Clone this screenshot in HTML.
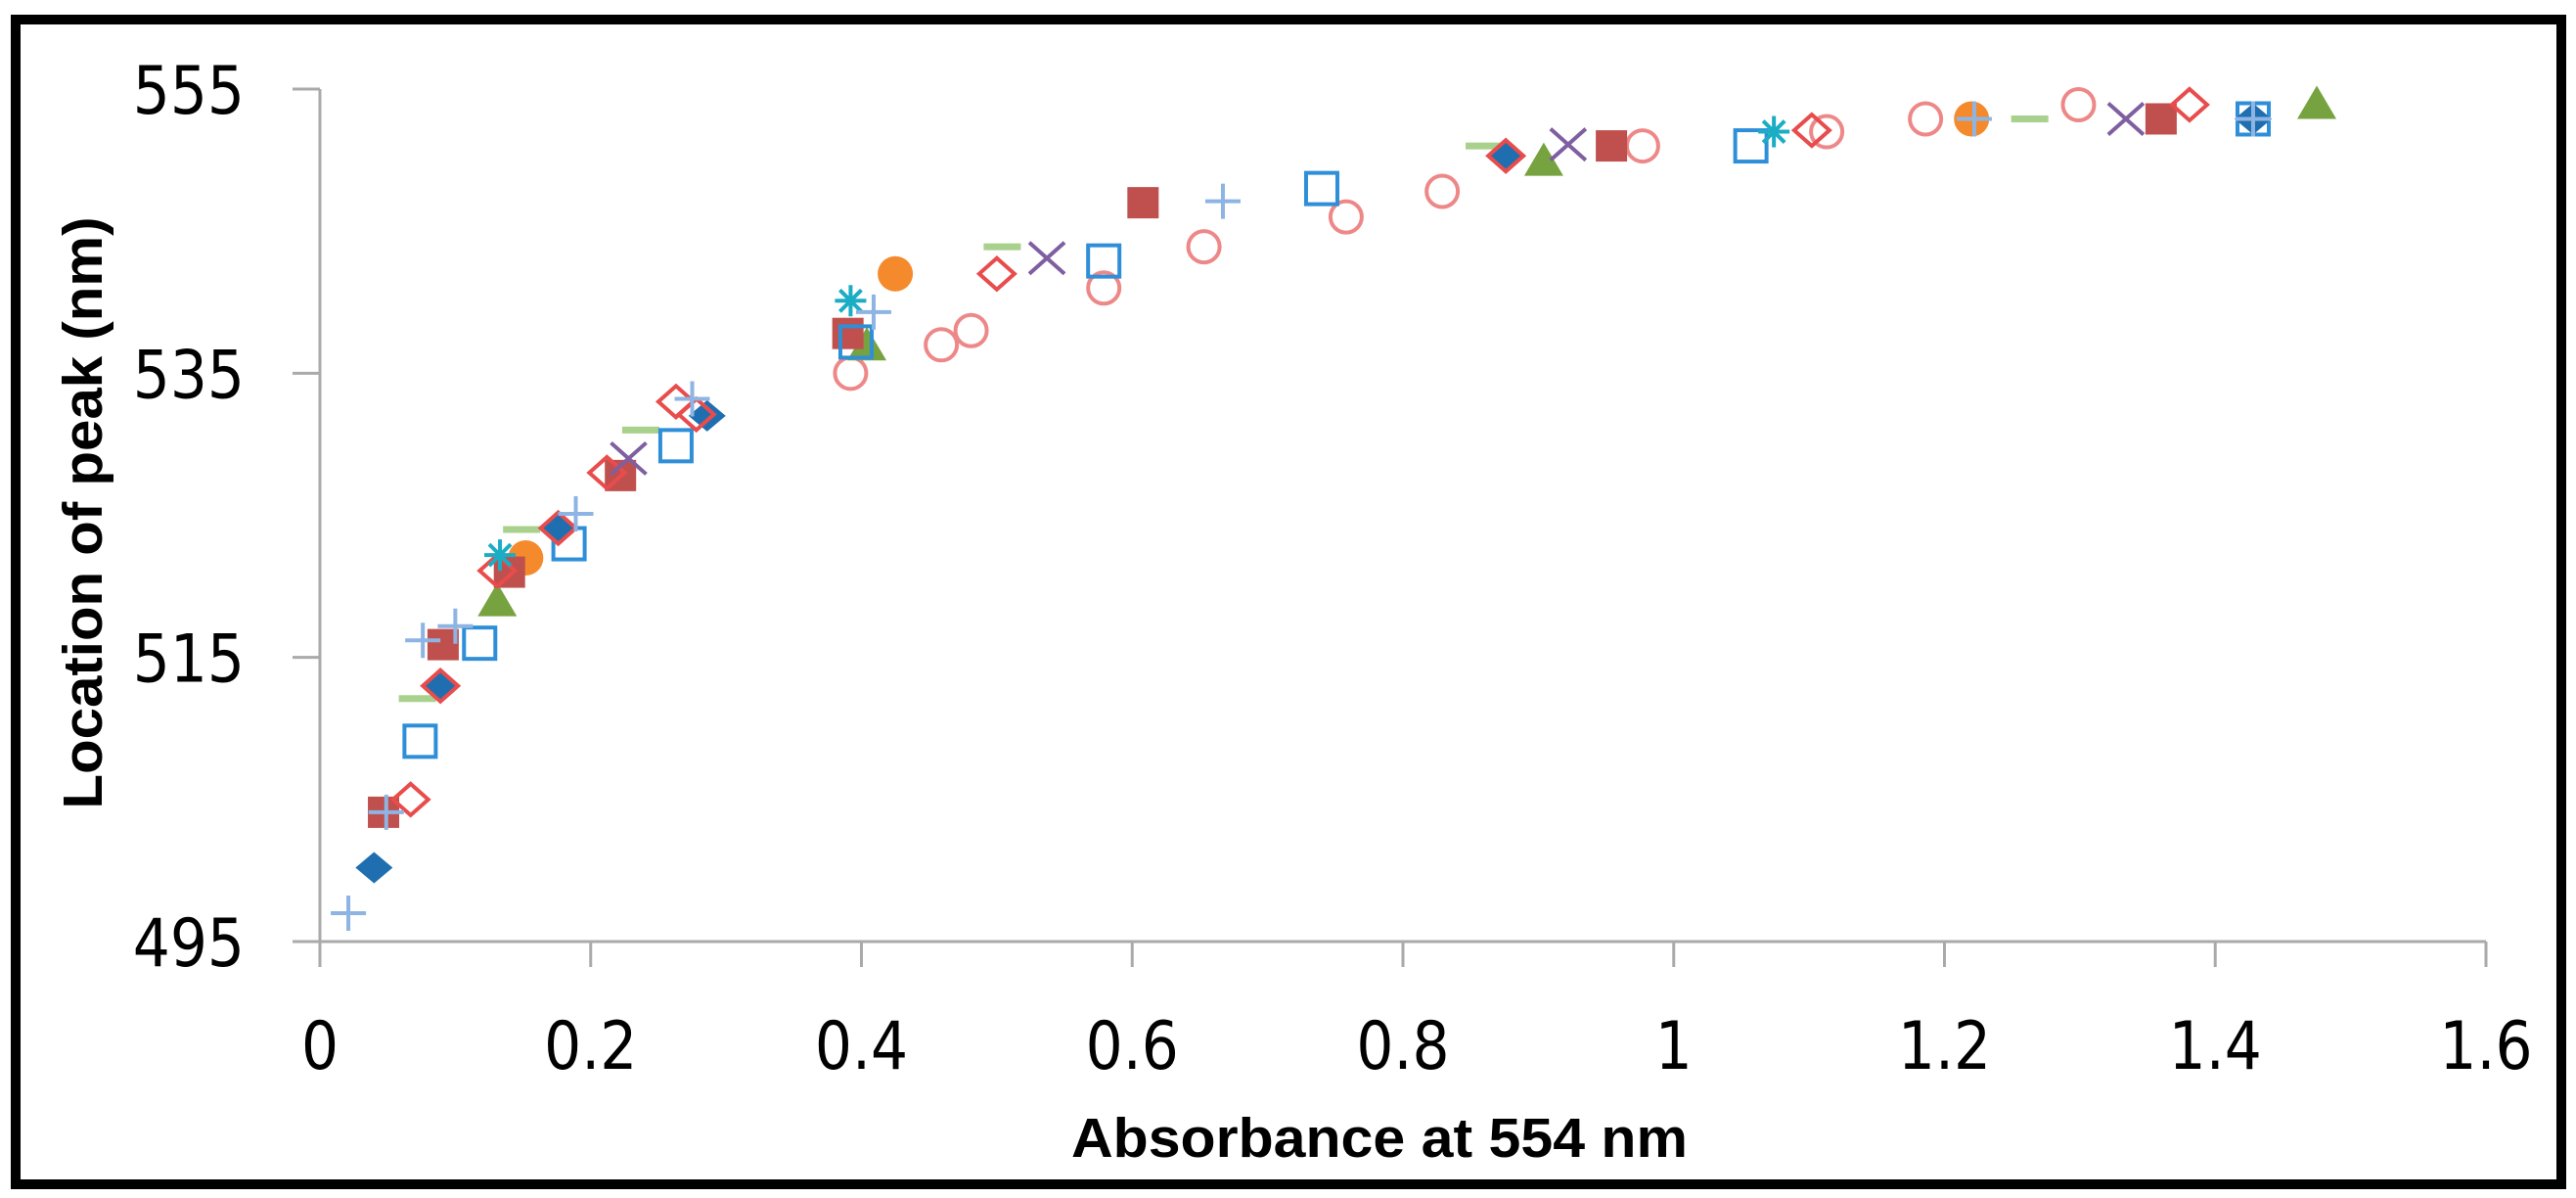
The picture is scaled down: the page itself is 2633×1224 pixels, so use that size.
<!DOCTYPE html>
<html><head><meta charset="utf-8"><style>
html,body{margin:0;padding:0;background:#fff;}
svg{display:block;font-family:"Liberation Sans",sans-serif;}
</style></head><body>
<svg id="chart" width="2633" height="1224" viewBox="0 0 2633 1224">
<rect x="16" y="20" width="2602" height="1190" fill="#fff" stroke="#000" stroke-width="10"/>
<g id="axes"></g>
<g id="marks"></g>
<text transform="translate(104,524) rotate(-90)" text-anchor="middle" font-weight="bold" font-size="57" textLength="605" lengthAdjust="spacingAndGlyphs">Location of peak (nm)</text>
<text x="1410" y="1182" text-anchor="middle" font-weight="bold" font-size="57" textLength="630" lengthAdjust="spacingAndGlyphs">Absorbance at 554 nm</text>
</svg>
<script>
const xTicks=[0,0.2,0.4,0.6,0.8,1,1.2,1.4,1.6];
const xTickLabels=["0","0.2","0.4","0.6","0.8","1","1.2","1.4","1.6"];
const yTicks=[495,515,535,555];
const yTickLabels=["495","515","535","555"];
const diamondX=[0.04,0.089,0.176,0.286,0.877,1.428];
const diamondY=[500.2,513.0,524.1,532.0,550.3,552.9];
const redSqX=[0.047,0.091,0.14,0.222,0.39,0.608,0.954,1.36];
const redSqY=[504.1,515.9,521,527.8,537.8,547,551,552.9];
const openDiaX=[0.067,0.089,0.131,0.176,0.212,0.263,0.278,0.5,0.876,1.102,1.381];
const openDiaY=[505,513,521.1,524.1,528,533,532.1,542,550.3,552.1,553.9];
const openSqX=[0.074,0.118,0.184,0.263,0.396,0.579,0.74,1.057,1.428];
const openSqY=[509.1,516.0,523,529.9,537.2,542.9,548,551,552.9];
const plusX=[0.021,0.049,0.076,0.1,0.189,0.275,0.409,0.667,1.222,1.428];
const plusY=[497,504.1,516.2,517.2,525.1,533.2,539.3,547.1,552.9,552.9];
const dashX=[0.072,0.149,0.237,0.504,0.86,1.263];
const dashY=[512.1,524,531,543.9,551,552.9];
const triX=[0.131,0.404,0.904,1.475];
const triY=[519,537,550,554];
const orangeX=[0.152,0.425,1.22];
const orangeY=[522,542,552.9];
const starX=[0.133,0.392,1.074];
const starY=[522.2,540.1,552];
const crossX=[0.228,0.537,0.922,1.334];
const crossY=[529,543.1,551.1,552.9];
const openCircX=[0.392,0.459,0.481,0.579,0.653,0.758,0.829,0.977,1.113,1.186,1.299];
const openCircY=[535,537,538,541,543.9,546,547.8,551,552,552.9,553.9];

const NS="http://www.w3.org/2000/svg";
const X0=327,X1=2541,Y0=962,Y1=91;
function sx(v){return X0+(v-0)/(1.6-0)*(X1-X0);}
function sy(v){return Y0-(v-495)/(555-495)*(Y0-Y1);}
function mk(tag,attrs,parent){const e=document.createElementNS(NS,tag);for(const k in attrs)e.setAttribute(k,attrs[k]);parent.appendChild(e);return e;}
const axes=document.getElementById('axes'),marks=document.getElementById('marks');
const ax=mk('line',{x1:X0,y1:Y0,x2:X1,y2:Y0,stroke:'#aaa','stroke-width':3},axes);


const ay=mk('line',{x1:X0,y1:Y0,x2:X0,y2:Y1,stroke:'#aaa','stroke-width':3},axes);


function squeeze(tx){try{const w=tx.getComputedTextLength();tx.setAttribute('textLength',w*0.88);tx.setAttribute('lengthAdjust','spacingAndGlyphs');}catch(e){}}
xTicks.forEach((t,i)=>{
  const l=mk('line',{x1:sx(t),y1:Y0,x2:sx(t),y2:Y0+26,stroke:'#aaa','stroke-width':3},axes);
  
  
  const tx=mk('text',{x:sx(t),y:1092,'text-anchor':'middle','font-size':68,'font-family':'DejaVu Sans, sans-serif'},axes);
  tx.textContent=xTickLabels[i];
  
  
  squeeze(tx);
});
yTicks.forEach((t,i)=>{
  const l=mk('line',{x1:X0-28,y1:sy(t),x2:X0,y2:sy(t),stroke:'#aaa','stroke-width':3},axes);
  
  
  const tx=mk('text',{x:250,y:sy(t)+25,'text-anchor':'end','font-size':68,'font-family':'DejaVu Sans, sans-serif'},axes);
  tx.textContent=yTickLabels[i];
  
  
  squeeze(tx);
});
const R=16;
function draw(xs,ys,kind,name){
  xs.forEach((v,i)=>{
    const cx=sx(v),cy=sy(ys[i]);let e;
    if(kind==='diamond')e=mk('polygon',{points:`${cx},${cy-R} ${cx+R+3},${cy} ${cx},${cy+R} ${cx-R-3},${cy}`,fill:'#1f6fb0'},marks);
    else if(kind==='redSq')e=mk('rect',{x:cx-R,y:cy-R,width:2*R,height:2*R,fill:'#c0504d'},marks);
    else if(kind==='openDia')e=mk('polygon',{points:`${cx},${cy-R} ${cx+R+2},${cy} ${cx},${cy+R} ${cx-R-2},${cy}`,fill:'none',stroke:'#e84c4c','stroke-width':4},marks);
    else if(kind==='openSq')e=mk('rect',{x:cx-R,y:cy-R,width:2*R,height:2*R,fill:'none',stroke:'#2e8fd8','stroke-width':4},marks);
    else if(kind==='plus')e=mk('path',{d:`M${cx-R-2},${cy}H${cx+R+2}M${cx},${cy-R-2}V${cy+R+2}`,stroke:'#8eb4e3','stroke-width':4},marks);
    else if(kind==='dash')e=mk('line',{x1:cx-R-3,y1:cy,x2:cx+R+3,y2:cy,stroke:'#a9d18e','stroke-width':7},marks);
    else if(kind==='tri')e=mk('polygon',{points:`${cx},${cy-R-2} ${cx+R+4},${cy+R} ${cx-R-4},${cy+R}`,fill:'#77a240'},marks);
    else if(kind==='orange')e=mk('circle',{cx:cx,cy:cy,r:R+2,fill:'#f58a2c'},marks);
    else if(kind==='star')e=mk('path',{d:`M${cx-R},${cy}H${cx+R}M${cx},${cy-R}V${cy+R}M${cx-11},${cy-11}L${cx+11},${cy+11}M${cx+11},${cy-11}L${cx-11},${cy+11}`,stroke:'#1aadc4','stroke-width':4},marks);
    else if(kind==='cross')e=mk('path',{d:`M${cx-R-2},${cy-R}L${cx+R+2},${cy+R}M${cx+R+2},${cy-R}L${cx-R-2},${cy+R}`,stroke:'#7f5fa0','stroke-width':4},marks);
    else e=mk('circle',{cx:cx,cy:cy,r:R,fill:'none',stroke:'#ee8888','stroke-width':4},marks);
    
    
  });
}
draw(openCircX,openCircY,'openCirc','open-circle-point');
draw(dashX,dashY,'dash','dash-point');
draw(triX,triY,'tri','triangle-point');
draw(orangeX,orangeY,'orange','orange-circle-point');
draw(redSqX,redSqY,'redSq','red-square-point');
draw(openSqX,openSqY,'openSq','open-square-point');
draw(diamondX,diamondY,'diamond','diamond-point');
draw(openDiaX,openDiaY,'openDia','open-diamond-point');
draw(crossX,crossY,'cross','x-point');
draw(starX,starY,'star','asterisk-point');
draw(plusX,plusY,'plus','plus-point');
</script>
</body></html>
